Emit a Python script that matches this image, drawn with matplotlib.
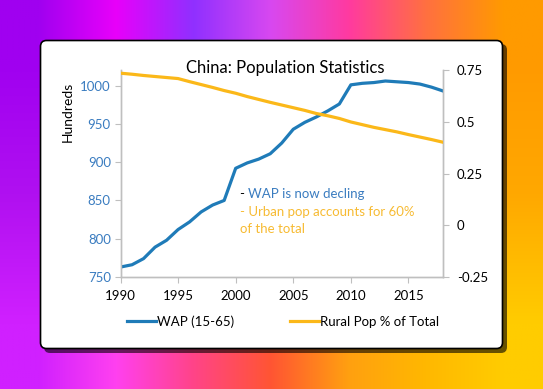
import numpy as np
import matplotlib
matplotlib.use("Agg")
import matplotlib.pyplot as plt
from matplotlib.patches import FancyBboxPatch
from matplotlib.colors import to_rgb

plt.rcParams["font.family"] = ["Lato", "DejaVu Sans"]

years = list(range(1990, 2019))
wap = [763, 766, 774, 789, 798, 812, 822, 835, 844, 850,
       892, 899, 904, 911, 925, 943, 952, 959, 967, 976,
       1001, 1003, 1004, 1006, 1005, 1004, 1002, 998, 993]
rural_share = [0.736, 0.731, 0.725, 0.720, 0.715, 0.710, 0.695, 0.681, 0.667, 0.652,
               0.639, 0.623, 0.609, 0.595, 0.582, 0.569, 0.556, 0.541, 0.530, 0.517,
               0.500, 0.487, 0.474, 0.463, 0.452, 0.439, 0.427, 0.415, 0.402]
left_ticks = [750, 800, 850, 900, 950, 1000]
right_ticks = [-0.25, 0, 0.25, 0.5, 0.75]
right_labels = ["-0.25", "0", "0.25", "0.5", "0.75"]
x_ticks = [1990, 1995, 2000, 2005, 2010, 2015]

BLUE = "#1f7bb8"
GOLD = "#fbb819"
TEXT_BLUE = "#3a7cc0"
TEXT_GOLD = "#f7bb33"
GRID = "#bfbfbf"

W, H = 543, 389
fig = plt.figure(figsize=(W / 100, H / 100), dpi=100)

# background gradient + card
bg = fig.add_axes([0, 0, 1, 1])
bg.set_xlim(0, W)
bg.set_ylim(H, 0)
bg.axis("off")
rows = [
    ["#a000f0", "#e800fa", "#9030ff", "#d848f0", "#ff3aa0", "#ff7040", "#ff9a00"],
    ["#b010f0", "#e830f8", "#d040e0", "#ff40a0", "#ff5560", "#ff8020", "#ffa800"],
    ["#d020ff", "#ff40f0", "#ff4488", "#ff5533", "#ffa010", "#ffb800", "#ffcc00"],
]
grid = np.array([[to_rgb(c) for c in r] for r in rows])
bg.imshow(grid, extent=(0, W, H, 0), aspect="auto", interpolation="bilinear")
bg.add_patch(FancyBboxPatch((44, 44), 463, 309, boxstyle="round,pad=0,rounding_size=6",
                            fc="#000000", ec="none", alpha=0.6))
bg.add_patch(FancyBboxPatch((40.5, 40.5), 462, 308, boxstyle="round,pad=0,rounding_size=6",
                            fc="white", ec="black", lw=1.2))

# chart
ax = fig.add_axes([120.5 / W, 1 - 277 / H, (443 - 120.5) / W, (277 - 70.3) / H])
ax.patch.set_alpha(0)
ax2 = ax.twinx()

ax.plot(years, wap, color=BLUE, lw=2.3, solid_joinstyle="round", zorder=3)
ax2.plot(years, rural_share, color=GOLD, lw=2.3, solid_joinstyle="round", zorder=3)

ax.set_xlim(1990, 2018)
ax.set_ylim(750, 1020)
ax2.set_ylim(-0.25, 0.75)
ax.set_xticks(x_ticks)
ax.set_yticks(left_ticks)
ax2.set_yticks(right_ticks)
ax2.set_yticklabels(right_labels)

for a in (ax, ax2):
    for s in a.spines.values():
        s.set_color(GRID)
        s.set_linewidth(1.0)
    a.spines["top"].set_visible(False)
ax.tick_params(axis="x", length=4, color=GRID, labelsize=9.5, pad=5, labelcolor="black")
ax.tick_params(axis="y", length=4, color=GRID, labelsize=9.5, pad=3, labelcolor=TEXT_BLUE)
ax2.tick_params(axis="y", length=4, color=GRID, labelsize=9.5, pad=6, labelcolor="black")

fig.text(67.5 / W, 1 - 112 / H, "Hundreds", rotation=90, ha="center", va="center", fontsize=10)
fig.text(285.6 / W, 1 - 67.7 / H, "China: Population Statistics", ha="center", va="center", fontsize=12)

fig.text(240 / W, 1 - 194 / H, "- ", color="black", ha="left", va="center", fontsize=9.5)
fig.text(247.5 / W, 1 - 194 / H, "WAP is now decling", color=TEXT_BLUE, ha="left", va="center", fontsize=9.5)
fig.text(240 / W, 1 - 211.7 / H, "- Urban pop accounts for 60%", color=TEXT_GOLD, ha="left", va="center", fontsize=9.5)
fig.text(240 / W, 1 - 229 / H, "of the total", color=TEXT_GOLD, ha="left", va="center", fontsize=9.5)

h1, = ax.plot([], [], color=BLUE, lw=2.3, label="WAP (15-65)")
h2, = ax.plot([], [], color=GOLD, lw=2.3, label="Rural Pop % of Total")
fig.legend(handles=[h1, h2], loc="center", bbox_to_anchor=(283 / W, 1 - 321.7 / H), ncol=2,
           frameon=False, fontsize=9.5, handlelength=2.2, handletextpad=0.1, columnspacing=4.2)

fig.savefig("out.png", dpi=100)
